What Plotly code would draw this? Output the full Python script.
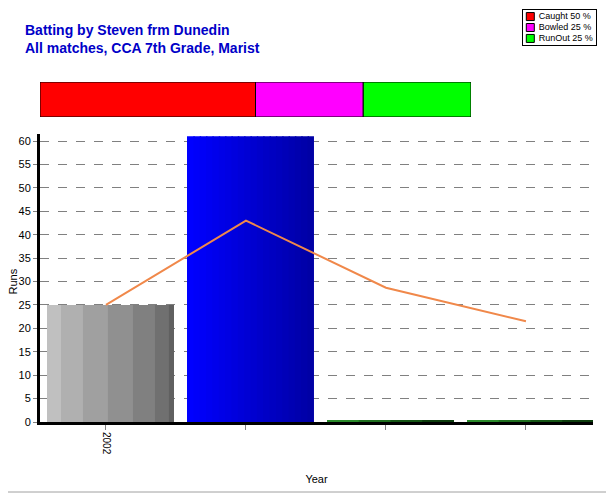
import plotly.graph_objects as go

# ---- data ----
x_pos = [0, 1, 2, 3]
tick_labels = ["2002", "", "", ""]
runs = [25, 61, 0.3, 0.3]            # bar heights
running_avg = [25, 43, 28.67, 21.5]  # orange line
dismissals = ["Caught 50 %", "Bowled 25 %", "RunOut 25 %"]
dismissal_pct = [50, 25, 25]
dismissal_colors = ["#ff0000", "#ff00ff", "#00ff00"]

FONT = "Liberation Sans, Arial, sans-serif"
W, H = 614, 493
OFF = 8  # page body margin


def fx(px):
    return (px - OFF) / W


def fy(px):
    return 1 - (px - OFF) / H


fig = go.Figure()

# bar geometry (category units)
bar_left = -0.421
bar_width = 0.907


def striped_bar(idx, value, colors, fracs, overlap=0.006):
    prev = 0.0
    for c, f in zip(colors, fracs):
        fig.add_trace(go.Bar(
            x=[x_pos[idx]], y=[value],
            width=[bar_width * (f - prev) + (overlap if f < 1 else 0)],
            offset=[bar_left + bar_width * prev],
            marker=dict(color=c, line=dict(width=0)),
            showlegend=False, hoverinfo="skip",
            xaxis="x", yaxis="y",
        ))
        prev = f


# gray bar (first category)
gray_colors = ["#c0c0c0", "#b0b0b0", "#a0a0a0", "#909090", "#808080", "#707070", "#606060"]
gray_fracs = [0.11, 0.283, 0.48, 0.677, 0.85, 0.96, 1.0]
striped_bar(0, runs[0], gray_colors, gray_fracs)

# blue gradient bar (second category)
n = 20
blue_colors = []
for i in range(n):
    b = int(round(255 - (255 - 165) * i / (n - 1)))
    blue_colors.append(f"rgb(0,0,{b})")
blue_fracs = [(i + 1) / n for i in range(n)]
striped_bar(1, runs[1], blue_colors, blue_fracs, overlap=0.01)

# green thin bars
for idx in (2, 3):
    g_colors = ["#2a8a2a", "#1f6f1f", "#155515", "#0c3c0c"]
    g_fracs = [0.25, 0.5, 0.75, 1.0]
    striped_bar(idx, runs[idx], g_colors, g_fracs)

# running average line
fig.add_trace(go.Scatter(
    x=x_pos, y=running_avg, mode="lines",
    line=dict(color="#f0884a", width=2),
    showlegend=False, hoverinfo="skip", xaxis="x", yaxis="y",
))

# dismissal stacked bar at top
base = 0
for name, pct, col in zip(dismissals, dismissal_pct, dismissal_colors):
    fig.add_trace(go.Bar(
        x=[pct], y=[0], base=[base], orientation="h", name=name,
        width=[1.0],
        marker=dict(color=col, line=dict(color="black", width=1)),
        xaxis="x2", yaxis="y2", hoverinfo="skip", showlegend=False,
    ))
    base += pct

# legend box (own small axes)
fig.add_trace(go.Scatter(
    x=[0.1] * len(dismissals), y=list(range(len(dismissals))),
    mode="markers+text",
    marker=dict(symbol="square", size=8, color=dismissal_colors,
                line=dict(color="black", width=1)),
    text=[" " + d for d in dismissals], textposition="middle right",
    textfont=dict(family=FONT, size=9, color="black"),
    xaxis="x3", yaxis="y3", hoverinfo="skip", showlegend=False,
    cliponaxis=False,
))

fig.update_layout(
    width=W, height=H,
    margin=dict(l=0, r=0, t=0, b=0, autoexpand=False),
    paper_bgcolor="white", plot_bgcolor="white",
    barmode="overlay",
    showlegend=False,
    font=dict(family=FONT, size=11, color="black"),
    title=dict(
        text="<b>Batting by Steven frm Dunedin<br>All matches, CCA 7th Grade, Marist</b>",
        font=dict(family=FONT, size=14, color="#0000c8"),
        xref="container", yref="container",
        x=17 / W, xanchor="left", y=1 - 27 / H, yanchor="top",
    ),
    xaxis=dict(
        domain=[fx(40), fx(593)], range=[-0.471, 3.479],
        tickvals=x_pos, ticktext=tick_labels, tickangle=90,
        ticks="outside", ticklen=5, tickcolor="#808080",
        tickfont=dict(size=10),
        showline=True, linecolor="black", linewidth=3,
        showgrid=False, zeroline=False, automargin=False,
        title=dict(text="Year", standoff=22, font=dict(size=11)),
        anchor="y",
    ),
    yaxis=dict(
        domain=[fy(422), fy(134)], range=[0, 61.5],
        tickvals=list(range(0, 61, 5)),
        ticks="outside", ticklen=4, tickcolor="#808080",
        showline=True, linecolor="black", linewidth=3,
        showgrid=True, gridcolor="#808080", griddash="dash", gridwidth=1,
        zeroline=False, automargin=False,
        anchor="x",
    ),
    xaxis2=dict(
        domain=[fx(40), fx(471)], range=[0, 100], anchor="y2",
        visible=False, fixedrange=True,
    ),
    yaxis2=dict(
        domain=[fy(117), fy(82)], range=[-0.5, 0.5], anchor="x2",
        visible=False, fixedrange=True,
    ),
    xaxis3=dict(
        domain=[fx(523), fx(596)], range=[0, 1], anchor="y3",
        showline=True, mirror=True, linecolor="black", linewidth=1,
        showgrid=False, zeroline=False, showticklabels=False, ticks="",
        fixedrange=True,
    ),
    yaxis3=dict(
        domain=[fy(45), fy(10)], range=[2.6, -0.6], anchor="x3",
        showline=True, mirror=True, linecolor="black", linewidth=1,
        showgrid=False, zeroline=False, showticklabels=False, ticks="",
        fixedrange=True,
    ),
    annotations=[
        dict(text="Runs", xref="paper", yref="paper",
             x=fx(12.5), y=fy(282), xanchor="center", yanchor="middle",
             textangle=-90, showarrow=False, font=dict(size=11),
             borderpad=0),
    ],
    shapes=[
        dict(type="line", xref="paper", yref="paper",
             x0=fx(0), x1=fx(613), y0=fy(492), y1=fy(492),
             line=dict(color="#a0a0a0", width=1)),
    ],
)

fig.write_html("out.html")
